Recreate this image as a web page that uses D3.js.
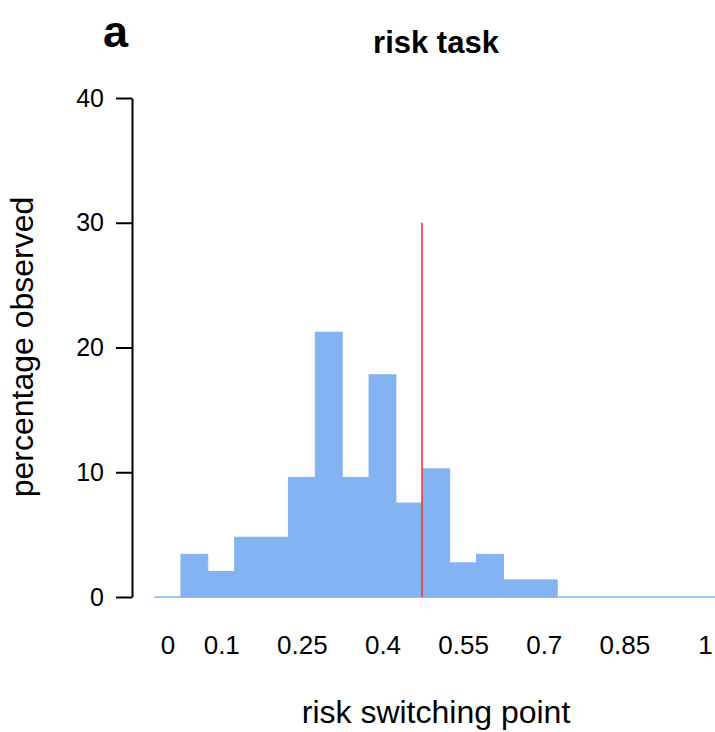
<!DOCTYPE html>
<html>
<head>
<meta charset="utf-8">
<script src="https://cdn.jsdelivr.net/npm/d3@7"></script>
<style>
  body { margin: 0; background: #fff; }
  svg { display: block; font-family: "Liberation Sans", Arial, Helvetica, sans-serif; }
</style>
</head>
<body>
<div id="wrapper"></div>
<script>
// histogram bins (centre of bin, width 0.05) and percentage observed
const binCenters = [0, 0.05, 0.1, 0.15, 0.2, 0.25, 0.3, 0.35, 0.4, 0.45, 0.5,
    0.55, 0.6, 0.65, 0.7, 0.75, 0.8, 0.85, 0.9, 0.95, 1];
const percentages = [0, 3.42, 2.05, 4.79, 4.79, 9.59, 21.23, 9.59, 17.81, 7.53, 10.27,
    2.74, 3.42, 1.37, 1.37, 0, 0, 0, 0, 0, 0];
const binWidth = 0.05;

// reference line
const refX = [0.4735];
const refY = [0, 30];

const xTicks = [0, 0.1, 0.25, 0.4, 0.55, 0.7, 0.85, 1];
const yTicks = [0, 10, 20, 30, 40];

const data = binCenters.map((c, i) => ({ x0: c - binWidth / 2, x1: c + binWidth / 2, pct: percentages[i] }));

function drawChart() {
    const dimensions = {
        width: 715,
        height: 732,
        margin: { top: 98, right: 10, bottom: 135, left: 167.5 }
    };
    const boundedWidth = 537.5;
    const boundedHeight = dimensions.height - dimensions.margin.top - dimensions.margin.bottom;
    const barColor = '#83b3f0';

    const wrapper = d3.select('#wrapper').append('svg')
        .attr('width', dimensions.width)
        .attr('height', dimensions.height);

    const bounds = wrapper.append('g')
        .attr('transform', `translate(${dimensions.margin.left}, ${dimensions.margin.top})`);

    const xScale = d3.scaleLinear()
        .domain([0, 1])
        .range([0, boundedWidth]);

    const yScale = d3.scaleLinear()
        .domain([0, 40])
        .range([boundedHeight, 0]);

    // empty bins still get drawn as a flat line, like R's hist
    bounds.append('line')
        .attr('x1', xScale(data[0].x0))
        .attr('x2', xScale(data[data.length - 1].x1))
        .attr('y1', yScale(0))
        .attr('y2', yScale(0))
        .attr('stroke', barColor)
        .attr('stroke-width', 1.5);

    // bars
    bounds.append('g').selectAll('rect')
        .data(data.filter(d => d.pct > 0))
        .enter().append('rect')
        .attr('x', d => xScale(d.x0))
        .attr('width', d => xScale(d.x1) - xScale(d.x0))
        .attr('y', d => yScale(d.pct))
        .attr('height', d => yScale(0) - yScale(d.pct))
        .attr('fill', barColor)
        .attr('stroke', barColor)
        .attr('stroke-width', 1);

    // red marker line
    bounds.append('line')
        .attr('x1', xScale(refX[0]))
        .attr('x2', xScale(refX[0]))
        .attr('y1', yScale(refY[0]))
        .attr('y2', yScale(refY[1]))
        .attr('stroke', '#ff2a2a')
        .attr('stroke-width', 1.5);

    // y axis
    const yAxisGenerator = d3.axisLeft(yScale)
        .tickValues(yTicks)
        .tickSize(16)
        .tickSizeOuter(0)
        .tickPadding(12);

    const yAxis = bounds.append('g')
        .attr('transform', `translate(${132 - dimensions.margin.left}, 0)`)
        .call(yAxisGenerator);
    yAxis.select('.domain').attr('stroke', '#000').attr('stroke-width', 2);
    yAxis.selectAll('.tick line').attr('stroke', '#000').attr('stroke-width', 2);
    yAxis.selectAll('.tick text')
        .attr('font-size', 25)
        .attr('font-family', null)
        .attr('fill', '#000');

    // x axis: labels only
    const xAxisGenerator = d3.axisBottom(xScale)
        .tickValues(xTicks)
        .tickFormat(d3.format(''))
        .tickSize(0)
        .tickPadding(39);

    const xAxis = bounds.append('g')
        .attr('transform', `translate(0, ${boundedHeight})`)
        .call(xAxisGenerator);
    xAxis.select('.domain').remove();
    xAxis.selectAll('.tick text')
        .attr('font-size', 26)
        .attr('font-family', null)
        .attr('fill', '#000');

    // axis labels
    wrapper.append('text')
        .attr('x', 436)
        .attr('y', 723)
        .attr('text-anchor', 'middle')
        .attr('font-size', 32)
        .text('risk switching point');

    wrapper.append('text')
        .attr('transform', 'translate(33, 347) rotate(-90)')
        .attr('text-anchor', 'middle')
        .attr('font-size', 32)
        .text('percentage observed');

    // title + panel letter
    wrapper.append('text')
        .attr('x', 436)
        .attr('y', 53)
        .attr('text-anchor', 'middle')
        .attr('font-size', 31)
        .attr('font-weight', 'bold')
        .text('risk task');

    wrapper.append('text')
        .attr('x', 103)
        .attr('y', 47)
        .attr('font-size', 45)
        .attr('font-weight', 'bold')
        .text('a');
}

drawChart();
</script>
</body>
</html>
